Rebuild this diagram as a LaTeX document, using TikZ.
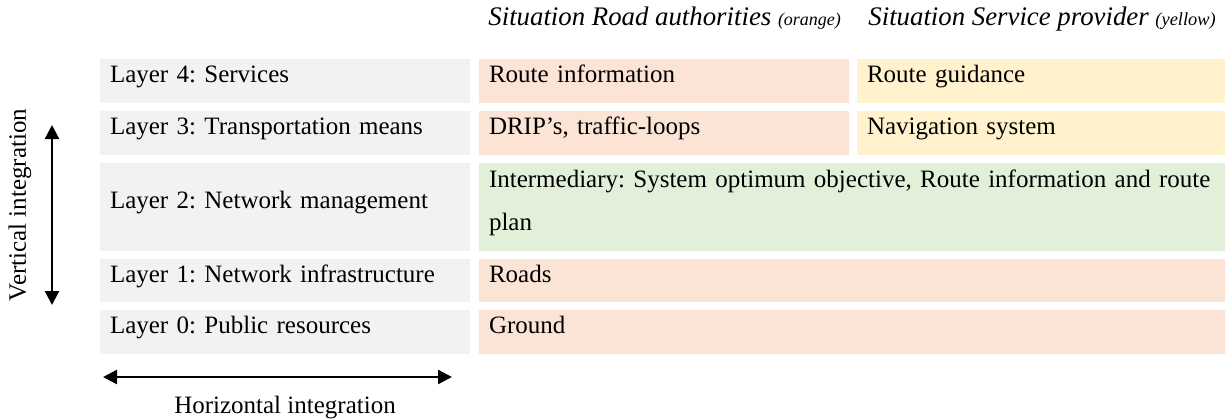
\documentclass[tikz,border=0pt]{standalone}
\usepackage{fontspec}
\setmainfont{Liberation Serif}
\usetikzlibrary{arrows.meta}
\frenchspacing
\definecolor{laygray}{HTML}{F2F2F2}
\definecolor{orangecell}{HTML}{FBE4D5}
\definecolor{yellowcell}{HTML}{FFF2CC}
\definecolor{greencell}{HTML}{E2EFD9}
\tikzset{
  cell/.style={anchor=north west, inner xsep=5pt, inner ysep=0pt, outer sep=0pt,
    align=left, font=\fontsize{12.5}{21.5}\selectfont,
    text height=8.5pt, text depth=6.8pt},
  leftcell/.style={cell, fill=laygray, text width=175pt},
  orcell/.style={cell, fill=orangecell, text width=175pt},
  yecell/.style={cell, fill=yellowcell, text width=174pt},
  widecell/.style={cell, text width=363pt},
  header/.style={anchor=base west, inner sep=0pt, font=\fontsize{13.4}{15}\selectfont\itshape},
  axislabel/.style={inner sep=0pt, font=\fontsize{12.5}{15}\selectfont},
  axisarrow/.style={line width=1.2pt, {Triangle[length=7pt,width=7pt]}-{Triangle[length=7pt,width=7pt]}}
}
\begin{document}
\begin{tikzpicture}[x=0.5pt,y=-0.5pt]
\useasboundingbox (0,0) rectangle (1225,419);

% headers
\node[header] (hroad) at (488,25) {Situation Road authorities {\fontsize{9}{10}\selectfont (orange)}};
\node[header] (hserv) at (868,25) {Situation Service provider {\fontsize{9.2}{10}\selectfont (yellow)}};

% left column
\node[leftcell, minimum height=22pt] (l4) at (100,59) {Layer 4: Services};
\node[leftcell, minimum height=22pt] (l3) at (100,110.5) {Layer 3: Transportation means};
\node[leftcell, minimum height=44pt] (l2) at (100,163) {Layer 2: Network management};
\node[leftcell, minimum height=21.5pt] (l1) at (100,259) {Layer 1: Network infrastructure};
\node[leftcell, minimum height=22pt] (l0) at (100,310) {Layer 0: Public resources};

% right columns
\node[orcell, minimum height=22pt] (o4) at (479,59) {Route information};
\node[yecell, minimum height=22pt] (y4) at (857,59) {Route guidance};
\node[orcell, minimum height=22pt] (o3) at (479,110.5) {DRIP’s, traffic-loops};
\node[yecell, minimum height=22pt] (y3) at (857,110.5) {Navigation system};
\node[widecell, fill=greencell, minimum height=44pt, text depth=28.3pt] (g2) at (479,163) {Intermediary: System optimum objective, Route information and route\\plan};
\node[widecell, fill=orangecell, minimum height=21.5pt] (o1) at (479,259) {Roads};
\node[widecell, fill=orangecell, minimum height=22pt] (o0) at (479,310) {Ground};

% axes
\coordinate (vtop) at (52,125);
\coordinate (vbot) at (52,305);
\draw[axisarrow] (vtop) -- (vbot);
\node[axislabel, rotate=90] (vlab) at (20,205) {Vertical integration};

\coordinate (hleft) at (103,377);
\coordinate (hright) at (452,377);
\draw[axisarrow] (hleft) -- (hright);
\node[axislabel] (hlab) at (285,408) {Horizontal integration};
\end{tikzpicture}
\end{document}
